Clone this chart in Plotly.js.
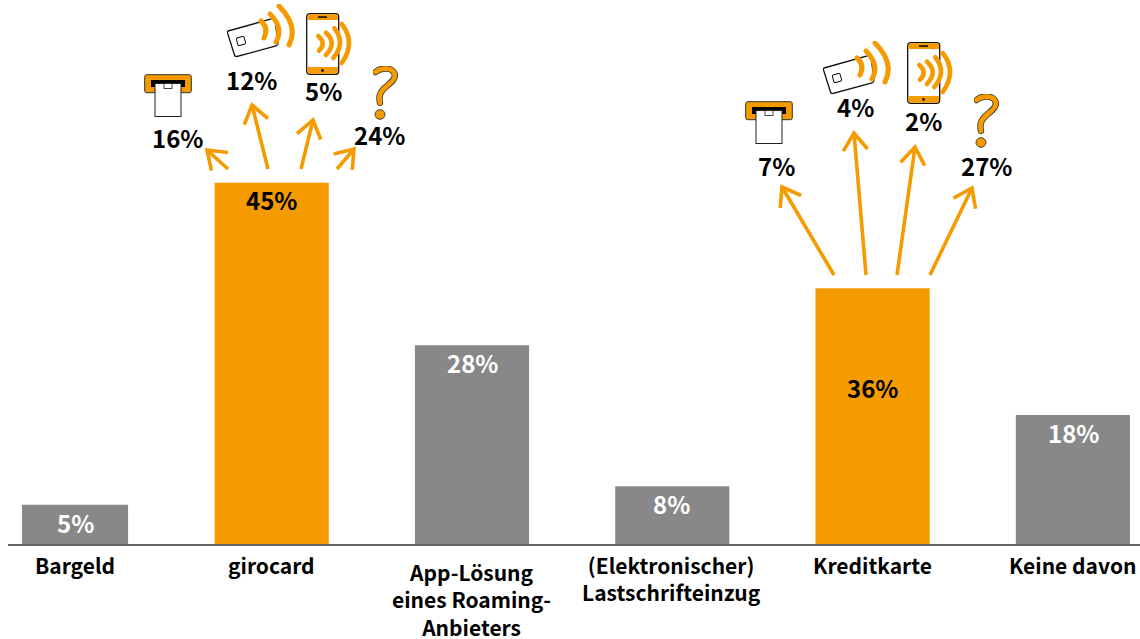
<!DOCTYPE html>
<html>
<head>
<meta charset="utf-8">
<script src="https://cdn.plot.ly/plotly-3.0.1.min.js"></script>
<style>html,body{margin:0;padding:0;background:#fff}#c{width:1140px;height:639px}</style>
</head>
<body>
<div id="c"></div>
<script>
const categories = ['Bargeld','girocard','App-Lösung<br>eines Roaming-<br>Anbieters','(Elektronischer)<br>Lastschrifteinzug','Kreditkarte','Keine davon'];
const barLabels = ['5%','45%','28%','8%','36%','18%'];
// Bar heights as drawn in the picture (the drawing is not strictly to scale)
const barHeights = [5.5,50.7,27.9,8.1,35.9,18.1];
const barPositions = [0.018,1,2,3,4,5];
const barWidths = [0.53,0.57,0.57,0.57,0.57,0.57];
const barColors = ['#888888','#f59b00','#888888','#888888','#f59b00','#888888'];
const barLabelColors = ['#ffffff','#000000','#ffffff','#ffffff','#000000','#ffffff'];
const barLabelX = [75,271,472,672,872,1073];
const barLabelY = [522,199,362,503,387,432];
const catLabelX = [75,271,471,671,872,1073];
const catLabelTop = [547.5,547.5,555,547.5,547.5,547.5];

const subLabels = ['16%','12%','5%','24%','7%','4%','2%','27%'];
const subLabelX = [177,251,323,379,776,855,923,986];
const subLabelY = [137,79,91,134,165,107,120,165];

const arrowTails = [[228,169],[268,169],[301,169],[337,169],[834,275],[866,275],[897,275],[930,275]];
const arrowTips  = [[207,150],[252,105],[313,120],[354,149],[782,187],[854,133],[915,147],[972,188]];

const ORANGE = '#f59b00';
const FONT = '"Noto Sans CJK SC","Noto Sans",sans-serif';
const L = 8, W = 1140, H = 639, BASE = 544, PXU = 200.3, PY = 7.125, X0 = 71.4;
const px = x => (x - L) / (W - L);
const py = y => (BASE - y) / BASE;

const svg = {
  terminal: [48,43,`<rect x="0.7" y="0.7" width="46.6" height="18" rx="2" fill="${ORANGE}" stroke="#333" stroke-width="1"/><rect x="7" y="6" width="34" height="7" fill="#000"/><rect x="11" y="9.5" width="26" height="33" fill="#fff" stroke="#222" stroke-width="1"/><rect x="20" y="9.5" width="8" height="5" fill="#fff" stroke="#222" stroke-width="0.8"/>`],
  card: [71,53,`<path d="M1 27 L46 14.5 Q47 14 48 16 L51 39 Q51 41 49 42 L10 52.5 Q8 53 7.5 51 L0.5 29 Q0 27.5 1 27 Z" fill="#fff" stroke="#111" stroke-width="1.3"/><rect x="10" y="33" width="8" height="8" rx="1.5" transform="rotate(-15 14 37)" fill="#fff" stroke="#111" stroke-width="1"/><g fill="none" stroke="${ORANGE}" stroke-width="5" stroke-linecap="round"><path d="M34 17 Q42 24 37 34"/><path d="M43 10 Q57 24 49 38"/><path d="M52 2 Q72 22 62 41"/></g>`],
  phone: [47,62,`<rect x="0.7" y="0.7" width="32" height="60.6" rx="3" fill="#fff" stroke="#111" stroke-width="1.3"/><path d="M1.3 7 V4 Q1.3 1.3 4 1.3 H29.5 Q32 1.3 32 4 V7 Z" fill="${ORANGE}"/><path d="M1.3 54 V58 Q1.3 60.7 4 60.7 H29.5 Q32 60.7 32 58 V54 Z" fill="${ORANGE}"/><rect x="12" y="3.3" width="9" height="1.6" fill="#111"/><circle cx="16.5" cy="57.5" r="1.4" fill="#111"/><g fill="none" stroke="${ORANGE}" stroke-width="4.6" stroke-linecap="round"><path d="M12.3 23 Q20.75 30.25 13 37.7"/><path d="M20 19.7 Q31.4 29.75 20 42"/><path d="M28.3 15.3 Q40.2 29.85 27.3 45"/><path d="M35.7 11 Q50.3 29.5 35.7 50"/></g>`],
  question: [25,54,`<g fill="none" stroke-linecap="round"><path d="M2.6 6 C8 1 22 0.8 21.8 10 C21.4 18 8.2 20 6.6 30 C6.3 33 6.5 35 7 37" stroke="#333" stroke-width="6.4"/><path d="M2.6 6 C8 1 22 0.8 21.8 10 C21.4 18 8.2 20 6.6 30 C6.3 33 6.5 35 7 37" stroke="${ORANGE}" stroke-width="4.8"/></g><ellipse cx="7" cy="48.5" rx="5" ry="4.8" fill="${ORANGE}" stroke="#333" stroke-width="0.9"/>`]
};
const uri = k => 'data:image/svg+xml;charset=utf-8,' + encodeURIComponent(`<svg xmlns="http://www.w3.org/2000/svg" width="${svg[k][0]*4}" height="${svg[k][1]*4}" viewBox="0 0 ${svg[k][0]} ${svg[k][1]}">${svg[k][2]}</svg>`);

const iconNames = ['terminal','card','phone','question','terminal','card','phone','question'];
const iconBoxes = [[144,74,48,43],[227,4,71,53],[306,13,47,62],[373,66,25,54],[745,101,48,43],[823,41,71,53],[907,42,47,62],[974,94,25,54]];

const images = iconNames.map((n,i) => {
  const b = iconBoxes[i];
  return {source: uri(n), xref:'paper', yref:'paper', x: px(b[0]), y: py(b[1]), sizex: b[2]/(W-L), sizey: b[3]/BASE, xanchor:'left', yanchor:'top', sizing:'stretch', layer:'above'};
});

function arrowShape(t, p) {
  const a = Math.atan2(t[1]-p[1], t[0]-p[0]), h = 21, s = 0.62;
  const h1 = [p[0]+h*Math.cos(a+s), p[1]+h*Math.sin(a+s)];
  const h2 = [p[0]+h*Math.cos(a-s), p[1]+h*Math.sin(a-s)];
  const f = q => `${px(q[0])} ${py(q[1])}`;
  return {type:'path', xref:'paper', yref:'paper',
    path:`M${f(t)} L${f(p)} M${f(h1)} L${f(p)} L${f(h2)}`,
    line:{color:ORANGE,width:3.6}, layer:'above'};
}

const ann = [];
barLabels.forEach((t,i) => ann.push({text:t, xref:'paper', yref:'paper', x:px(barLabelX[i]), y:py(barLabelY[i]), xanchor:'center', yanchor:'middle', showarrow:false, font:{family:FONT,size:24,weight:700,color:barLabelColors[i]}}));
subLabels.forEach((t,i) => ann.push({text:t, xref:'paper', yref:'paper', x:px(subLabelX[i]), y:py(subLabelY[i]), xanchor:'center', yanchor:'middle', showarrow:false, font:{family:FONT,size:24,weight:700,color:'#000'}}));
categories.forEach((t,i) => ann.push({text:t, xref:'paper', yref:'paper', x:px(catLabelX[i]), y:py(catLabelTop[i]), xanchor:'center', yanchor:'top', align:'center', showarrow:false, font:{family:FONT,size:21,weight:700,color:'#000'}}));

Plotly.newPlot('c', [{
  type:'bar', x:barPositions, y:barHeights, width:barWidths,
  marker:{color:barColors, line:{width:0}}, hoverinfo:'skip'
}], {
  width:W, height:H, showlegend:false,
  margin:{l:L,r:0,t:0,b:H-BASE,pad:0},
  paper_bgcolor:'#fff', plot_bgcolor:'#fff',
  xaxis:{type:'linear', range:[(L-X0)/PXU,(W-X0)/PXU], showgrid:false, zeroline:false, showticklabels:false, ticks:'', showline:true, linecolor:'#666666', linewidth:2},
  yaxis:{range:[0,BASE/PY], visible:false, showgrid:false, zeroline:false},
  shapes: arrowTails.map((t,i) => arrowShape(t, arrowTips[i])),
  images: images,
  annotations: ann
}, {displayModeBar:false, staticPlot:true});
</script>
</body>
</html>
